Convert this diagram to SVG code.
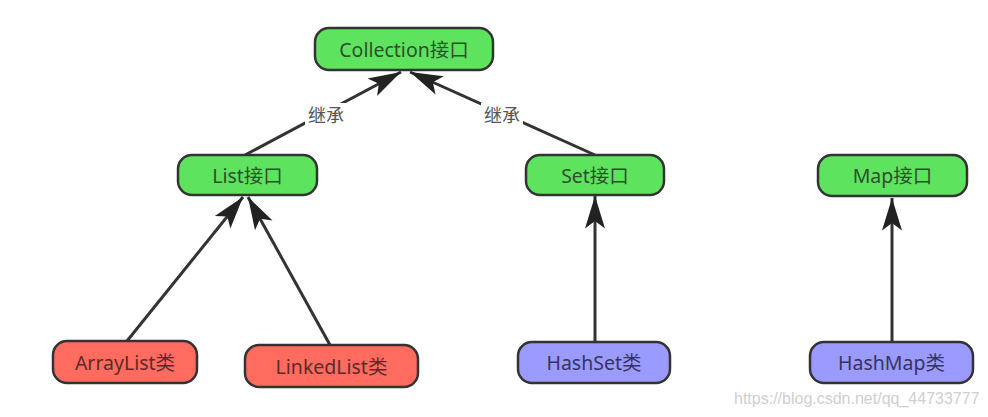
<svg xmlns="http://www.w3.org/2000/svg" width="988" height="417" viewBox="0 0 988 417">
<style>
.n rect{stroke:#333;stroke-width:2.5}
.g rect{fill:#5ee35e}
.r rect{fill:#ff6b5e}
.b rect{fill:#9a9aff}
.n text{font-family:"Noto Sans","Noto Sans CJK SC",sans-serif;font-size:19.5px;text-anchor:middle;dominant-baseline:central}
.g text{fill:#2e4f2e}
.r text{fill:#5a2b2b}
.b text{fill:#35355e}
.e line{stroke:#333;stroke-width:3;marker-end:url(#ah)}
.lbl{font-family:"Noto Sans CJK SC",sans-serif;font-size:18px;fill:#555;text-anchor:middle;dominant-baseline:central}
</style>
<defs>
<marker id="ah" markerUnits="userSpaceOnUse" markerWidth="40" markerHeight="40" viewBox="-30 -10 32 20" refX="0" refY="0" orient="auto">
<path d="M0,0 L-26,-8 L-20,0 L-26,8 Z" fill="#222"/>
</marker>
</defs>
<rect width="988" height="417" fill="#fff"/>
<g class="e" id="edges">
<line x1="245" y1="155" x2="401" y2="72"/>
<line x1="595" y1="155" x2="410" y2="72"/>
<line x1="127" y1="341" x2="243" y2="197"/>
<line x1="330" y1="345" x2="248" y2="197"/>
<line x1="595" y1="342" x2="595" y2="196"/>
<line x1="892" y1="342" x2="892" y2="198"/>
<rect x="305" y="103" width="42" height="22" fill="#fff"/>
<text class="lbl" x="326" y="114">继承</text>
<rect x="481" y="103" width="42" height="22" fill="#fff"/>
<text class="lbl" x="502" y="114">继承</text>
</g>
<g id="collection" class="n g"><rect x="315" y="28" width="178" height="42" rx="14"/><text x="404" y="49">Collection接口</text></g>
<g id="list" class="n g"><rect x="178" y="155" width="139" height="40" rx="14"/><text x="247.5" y="175">List接口</text></g>
<g id="set" class="n g"><rect x="526" y="155" width="138" height="40" rx="14"/><text x="595" y="175">Set接口</text></g>
<g id="map" class="n g"><rect x="818" y="155" width="149" height="41" rx="14"/><text x="892.5" y="175.5">Map接口</text></g>
<g id="arraylist" class="n r"><rect x="53" y="341" width="144" height="42" rx="14"/><text x="125" y="362">ArrayList类</text></g>
<g id="linkedlist" class="n r"><rect x="245" y="345" width="173" height="42" rx="14"/><text x="331.5" y="366">LinkedList类</text></g>
<g id="hashset" class="n b"><rect x="518" y="342" width="152" height="41" rx="14"/><text x="594" y="362.5">HashSet类</text></g>
<g id="hashmap" class="n b"><rect x="810" y="342" width="163" height="41" rx="14"/><text x="891.5" y="362.5">HashMap类</text></g>
<text x="734" y="404" font-family="Liberation Sans, sans-serif" font-size="16" fill="#cfcfcf">https://blog.csdn.net/qq_44733777</text>
</svg>
